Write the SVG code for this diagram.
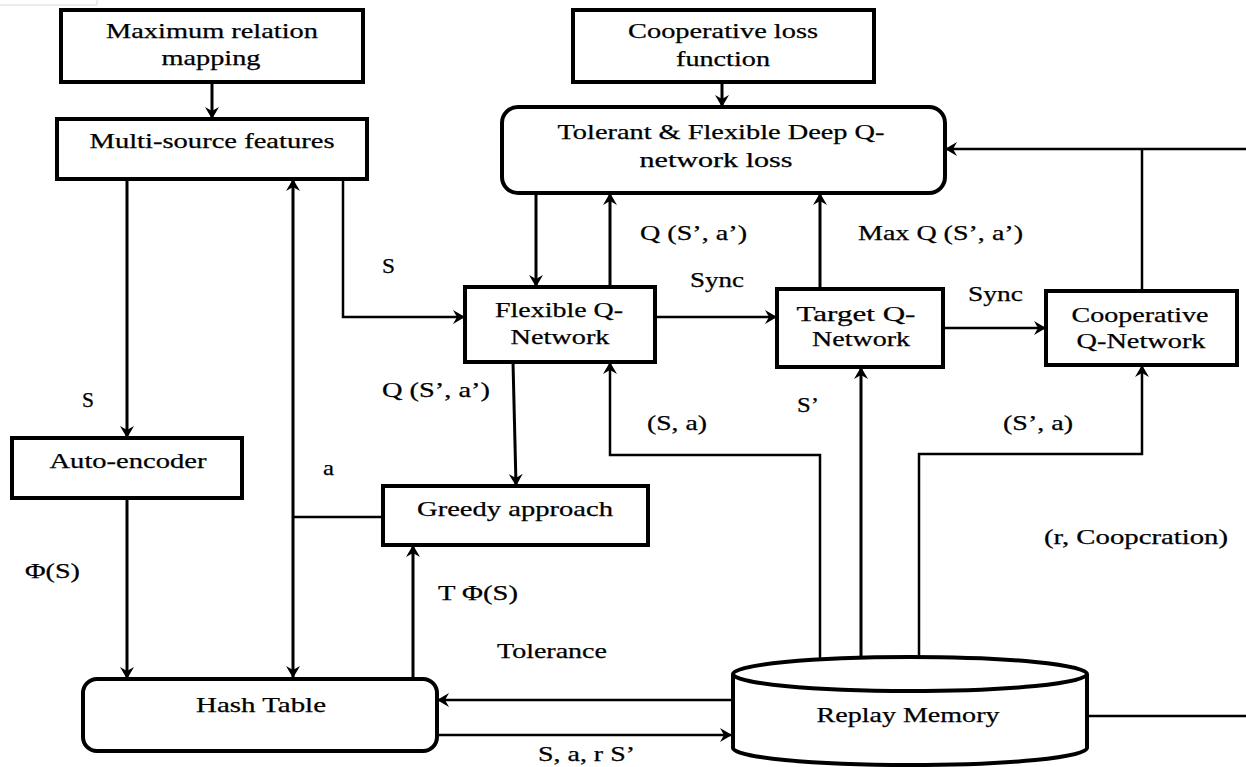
<svg xmlns="http://www.w3.org/2000/svg" width="1246" height="767" viewBox="0 0 1246 767">
<style>
.box{fill:#fff;stroke:#000;stroke-width:4}
.t{font-family:"Liberation Serif","Times New Roman",serif;font-size:21px;fill:#000;stroke:#000;stroke-width:0.25}
.c{text-anchor:middle}
.ln{fill:none;stroke:#000;stroke-width:3}
.th{fill:none;stroke:#000;stroke-width:2.5}
.ar{marker-end:url(#ah)}
</style>
<defs>
<marker id="ah" viewBox="0 0 12 14" refX="11" refY="7" markerWidth="12" markerHeight="14" markerUnits="userSpaceOnUse" orient="auto-start-reverse">
<path d="M0,0 L12,7 L0,14 L4,7 z" fill="#000"/>
</marker>
</defs>
<rect width="1246" height="767" fill="#fff"/>
<path d="M0,5 H97 V0" fill="none" stroke="#d8d8d8" stroke-width="1"/>

<g id="connectors">
<path class="ln ar" d="M212,82 V118"/>
<path class="ln ar" d="M722,82 V106"/>
<path class="ln ar" d="M127,179 V437"/>
<path class="ln ar" d="M293,677 V180" style="marker-start:url(#ah)"/>
<path class="th ar" d="M343,179 V317 H464"/>
<path class="ln ar" d="M536,193 V286"/>
<path class="ln ar" d="M610,287 V194"/>
<path class="ln ar" d="M820,289 V194"/>
<path class="th ar" d="M655,317 H776"/>
<path class="th ar" d="M943,328 H1045"/>
<path class="th ar" d="M1246,149 H946"/>
<path class="th" d="M1142,291 V149"/>
<path class="th" d="M1087,716 H1246"/>
<path class="ln ar" d="M861,657 V368"/>
<path class="th ar" d="M919,657 V454 H1142 V366"/>
<path class="th ar" d="M820,659 V455 H610 V363"/>
<path class="ln ar" d="M513,362 L516,485"/>
<path class="th" d="M383,517 H293"/>
<path class="ln ar" d="M127,498 V678"/>
<path class="ln ar" d="M413,679 V546"/>
<path class="th ar" d="M732,700 H438"/>
<path class="th ar" d="M437,735 H731"/>
</g>

<g id="mrm">
<rect class="box" x="61" y="10" width="302" height="72"/>
<text class="t c" x="212" y="38" textLength="212" lengthAdjust="spacingAndGlyphs">Maximum relation</text>
<text class="t c" x="211" y="65" textLength="99" lengthAdjust="spacingAndGlyphs">mapping</text>
</g>
<g id="msf">
<rect class="box" x="57" y="119" width="310" height="60"/>
<text class="t c" x="212" y="148" textLength="245" lengthAdjust="spacingAndGlyphs">Multi-source features</text>
</g>
<g id="clf">
<rect class="box" x="573" y="10" width="301" height="72"/>
<text class="t c" x="723" y="38" textLength="190" lengthAdjust="spacingAndGlyphs">Cooperative loss</text>
<text class="t c" x="723" y="66" textLength="94" lengthAdjust="spacingAndGlyphs">function</text>
</g>
<g id="tfl">
<rect class="box" x="502" y="107" width="443" height="86" rx="16"/>
<text class="t c" x="721" y="139" textLength="327" lengthAdjust="spacingAndGlyphs">Tolerant &amp; Flexible Deep Q-</text>
<text class="t c" x="716" y="167" textLength="153" lengthAdjust="spacingAndGlyphs">network loss</text>
</g>
<g id="fqn">
<rect class="box" x="465" y="287" width="190" height="75"/>
<text class="t c" x="559" y="317" textLength="128" lengthAdjust="spacingAndGlyphs">Flexible Q-</text>
<text class="t c" x="560" y="344" textLength="99" lengthAdjust="spacingAndGlyphs">Network</text>
</g>
<g id="tqn">
<rect class="box" x="777" y="289" width="166" height="78"/>
<text class="t c" x="856" y="321" textLength="119" lengthAdjust="spacingAndGlyphs">Target Q-</text>
<text class="t c" x="861" y="346" textLength="98" lengthAdjust="spacingAndGlyphs">Network</text>
</g>
<g id="cqn">
<rect class="box" x="1046" y="291" width="191" height="74"/>
<text class="t c" x="1140" y="322" textLength="137" lengthAdjust="spacingAndGlyphs">Cooperative</text>
<text class="t c" x="1141" y="348" textLength="129" lengthAdjust="spacingAndGlyphs">Q-Network</text>
</g>
<g id="ae">
<rect class="box" x="12" y="438" width="230" height="60"/>
<text class="t c" x="128" y="468" textLength="157" lengthAdjust="spacingAndGlyphs">Auto-encoder</text>
</g>
<g id="ga">
<rect class="box" x="383" y="486" width="265" height="59"/>
<text class="t c" x="515" y="516" textLength="196" lengthAdjust="spacingAndGlyphs">Greedy approach</text>
</g>
<g id="ht">
<rect class="box" x="83" y="679" width="354" height="72" rx="14"/>
<text class="t c" x="261" y="712" textLength="130" lengthAdjust="spacingAndGlyphs">Hash Table</text>
</g>
<g id="rm">
<path class="box" d="M733,674 A177,17 0 0 1 1087,674 V748 A177,17 0 0 1 733,748 Z"/>
<path d="M733,674 A177,17 0 0 0 1087,674" fill="none" stroke="#000" stroke-width="4"/>
<text class="t c" x="908" y="722" textLength="183" lengthAdjust="spacingAndGlyphs">Replay Memory</text>
</g>

<g id="labels">
<text class="t" x="382" y="273" textLength="13" lengthAdjust="spacingAndGlyphs">S</text>
<text class="t" x="82" y="407" textLength="12" lengthAdjust="spacingAndGlyphs">S</text>
<text class="t" x="640" y="240" textLength="107" lengthAdjust="spacingAndGlyphs">Q (S’, a’)</text>
<text class="t" x="858" y="240" textLength="165" lengthAdjust="spacingAndGlyphs">Max Q (S’, a’)</text>
<text class="t" x="690" y="287" textLength="54" lengthAdjust="spacingAndGlyphs">Sync</text>
<text class="t" x="968" y="301" textLength="55" lengthAdjust="spacingAndGlyphs">Sync</text>
<text class="t" x="382" y="397" textLength="108" lengthAdjust="spacingAndGlyphs">Q (S’, a’)</text>
<text class="t" x="647" y="430" textLength="60" lengthAdjust="spacingAndGlyphs">(S, a)</text>
<text class="t" x="797" y="412" textLength="22" lengthAdjust="spacingAndGlyphs">S’</text>
<text class="t" x="1003" y="430" textLength="70" lengthAdjust="spacingAndGlyphs">(S’, a)</text>
<text class="t" x="323" y="475" textLength="11" lengthAdjust="spacingAndGlyphs">a</text>
<text class="t" x="25" y="578" textLength="55" lengthAdjust="spacingAndGlyphs">Φ(S)</text>
<text class="t" x="438" y="600" textLength="80" lengthAdjust="spacingAndGlyphs">T Φ(S)</text>
<text class="t" x="497" y="658" textLength="110" lengthAdjust="spacingAndGlyphs">Tolerance</text>
<text class="t" x="538" y="761" textLength="97" lengthAdjust="spacingAndGlyphs">S, a, r S’</text>
<text class="t" x="1044" y="544" textLength="184" lengthAdjust="spacingAndGlyphs">(r, Coopcration)</text>
</g>
</svg>
